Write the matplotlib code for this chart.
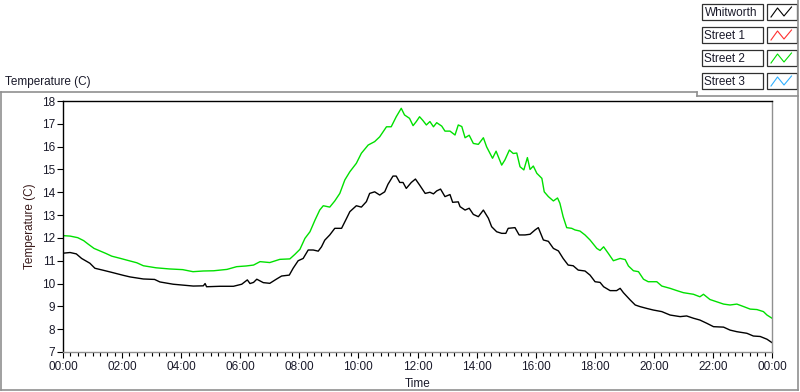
import matplotlib
matplotlib.use("Agg")
import matplotlib.pyplot as plt
from matplotlib.patches import Rectangle

# ---------------- data ----------------
whit_hours = [0.0, 0.24, 0.45, 0.63, 0.91, 1.08, 1.37, 1.65, 2.04, 2.27, 2.72, 3.10, 3.28,
              3.73, 4.41, 4.75, 4.81, 4.86, 5.31, 5.77, 6.05, 6.24, 6.33, 6.45, 6.56, 6.78,
              7.0, 7.22, 7.4, 7.66, 7.79, 7.96, 8.13, 8.3, 8.47, 8.64, 8.75, 8.86, 9.03,
              9.2, 9.43, 9.6, 9.71, 9.93, 10.1, 10.27, 10.38, 10.55, 10.72, 10.89, 11.0,
              11.17, 11.28, 11.4, 11.51, 11.62, 11.79, 11.93, 12.07, 12.26, 12.42, 12.54,
              12.65, 12.78, 12.93, 13.1, 13.19, 13.38, 13.44, 13.61, 13.75, 13.89, 14.06,
              14.23, 14.4, 14.51, 14.68, 14.85, 14.99, 15.07, 15.3, 15.44, 15.64, 15.81,
              15.98, 16.09, 16.26, 16.43, 16.6, 16.77, 16.93, 17.1, 17.27, 17.44, 17.67,
              17.84, 18.01, 18.18, 18.3, 18.52, 18.74, 18.86, 18.97, 19.2, 19.37, 19.53,
              19.76, 19.98, 20.27, 20.55, 20.89, 21.11, 21.34, 21.56, 21.79, 22.02, 22.36,
              22.58, 22.81, 23.15, 23.37, 23.6, 23.83, 24.0]
whit_temp = [11.33, 11.36, 11.30, 11.10, 10.89, 10.67, 10.58, 10.49, 10.36, 10.29, 10.20, 10.18,
             10.07, 9.97, 9.89, 9.90, 10.0, 9.86, 9.88, 9.88, 9.97, 10.16, 10.00, 10.05, 10.19,
             10.04, 10.01, 10.19, 10.33, 10.37, 10.67, 11.0, 11.1, 11.47, 11.47, 11.42, 11.61,
             11.9, 12.13, 12.42, 12.42, 12.86, 13.15, 13.41, 13.35, 13.59, 13.95, 14.02, 13.88,
             14.02, 14.35, 14.71, 14.71, 14.43, 14.43, 14.17, 14.43, 14.58, 14.32, 13.95, 14.0,
             13.93, 14.06, 14.14, 13.81, 13.9, 13.56, 13.58, 13.37, 13.22, 13.3, 13.03, 12.93,
             13.22, 12.86, 12.49, 12.27, 12.2, 12.2, 12.42, 12.45, 12.13, 12.13, 12.16, 12.35,
             12.45, 11.91, 11.85, 11.54, 11.43, 11.1, 10.81, 10.78, 10.59, 10.55, 10.37, 10.08,
             10.05, 9.86, 9.69, 9.69, 9.79, 9.6, 9.28, 9.06, 8.99, 8.91, 8.84, 8.77, 8.62, 8.55,
             8.58, 8.48, 8.4, 8.26, 8.11, 8.09, 7.96, 7.89, 7.82, 7.7, 7.68, 7.56, 7.41]

st2_hours = [0.0, 0.24, 0.5, 0.7, 0.85, 1.05, 1.25, 1.45, 1.65, 1.95, 2.15, 2.5, 2.72, 3.15,
             3.6, 4.05, 4.4, 4.75, 5.1, 5.55, 5.88, 6.2, 6.45, 6.67, 7.0, 7.34, 7.68, 7.85,
             8.02, 8.19, 8.36, 8.53, 8.69, 8.81, 9.03, 9.2, 9.37, 9.54, 9.71, 9.93, 10.1,
             10.33, 10.55, 10.72, 10.95, 11.11, 11.28, 11.45, 11.56, 11.73, 11.85, 11.96,
             12.07, 12.18, 12.3, 12.42, 12.54, 12.65, 12.82, 12.93, 13.1, 13.27, 13.38, 13.5,
             13.61, 13.75, 13.89, 14.06, 14.23, 14.34, 14.54, 14.66, 14.85, 14.96, 15.11,
             15.24, 15.36, 15.47, 15.6, 15.72, 15.81, 15.92, 16.04, 16.21, 16.29, 16.43, 16.6,
             16.74, 16.82, 16.93, 17.05, 17.22, 17.33, 17.5, 17.67, 17.84, 18.07, 18.18, 18.3,
             18.46, 18.63, 18.86, 19.03, 19.14, 19.31, 19.48, 19.65, 19.81, 20.1, 20.27, 20.55,
             20.78, 21.0, 21.34, 21.56, 21.68, 21.9, 22.13, 22.36, 22.58, 22.81, 23.04, 23.26,
             23.49, 23.71, 23.83, 24.0]
st2_temp = [12.10, 12.08, 12.01, 11.88, 11.73, 11.54, 11.43, 11.32, 11.2, 11.1, 11.03, 10.91,
            10.78, 10.69, 10.64, 10.61, 10.52, 10.55, 10.56, 10.62, 10.74, 10.77, 10.81, 10.96,
            10.92, 11.06, 11.08, 11.28, 11.5, 11.98, 12.27, 12.78, 13.22, 13.41, 13.35, 13.62,
            13.95, 14.54, 14.9, 15.27, 15.71, 16.07, 16.22, 16.43, 16.87, 16.87, 17.31, 17.68,
            17.39, 17.24, 16.92, 17.1, 17.31, 17.15, 16.95, 17.1, 16.87, 17.05, 16.9, 16.68,
            16.68, 16.51, 16.95, 16.88, 16.39, 16.5, 16.14, 16.1, 16.39, 15.99, 15.49, 15.8,
            15.19, 15.42, 15.85, 15.7, 15.72, 15.12, 14.98, 15.52, 15.0, 15.15, 14.83, 14.61,
            14.02, 13.81, 13.62, 13.75, 13.52, 12.93, 12.45, 12.42, 12.35, 12.3, 12.13, 11.91,
            11.54, 11.45, 11.61, 11.32, 11.0, 11.1, 11.05, 10.77, 10.56, 10.52, 10.19, 10.08,
            10.08, 9.89, 9.79, 9.69, 9.6, 9.53, 9.42, 9.53, 9.3, 9.2, 9.1, 9.06, 9.1, 8.99,
            8.88, 8.86, 8.77, 8.62, 8.48]

series_names = ["Whitworth", "Street 1", "Street 2", "Street 3"]
series_colors = ["#000000", "#ff3030", "#00e000", "#30b0ff"]

x_ticks = [0, 2, 4, 6, 8, 10, 12, 14, 16, 18, 20, 22, 24]
x_tick_labels = ["00:00", "02:00", "04:00", "06:00", "08:00", "10:00", "12:00",
                 "14:00", "16:00", "18:00", "20:00", "22:00", "00:00"]
y_ticks = [7, 8, 9, 10, 11, 12, 13, 14, 15, 16, 17, 18]

# ---------------- figure ----------------
W, H = 800, 392
plt.rcParams['font.family'] = ['Liberation Sans', 'DejaVu Sans']
fig = plt.figure(figsize=(W / 100, H / 100), dpi=100)
fig.patch.set_facecolor("white")

ov = fig.add_axes([0, 0, 1, 1], zorder=0)
ov.set_xlim(0, W)
ov.set_ylim(H, 0)
ov.axis("off")

frame_c = "#909090"
ov.plot([1, 697], [92, 92], color=frame_c, lw=1.2)
ov.plot([697, 697], [92, 96], color=frame_c, lw=1.2)
ov.plot([697, 798], [96, 96], color=frame_c, lw=1.2)
ov.plot([1, 1], [92, 390], color=frame_c, lw=1.2)
ov.plot([1, 798], [390, 390], color=frame_c, lw=1.2)
ov.plot([798, 798], [0, 390], color=frame_c, lw=1.2)

text_c = "#1a1a2a"
FS = 8.5
fig.text(5 / W, 1 - 82 / H, "Temperature (C)", fontsize=FS, color=text_c,
         ha="left", va="center")

row_tops = [4, 27, 50, 73]
for name, col, top in zip(series_names, series_colors, row_tops):
    ov.add_patch(Rectangle((702, top), 61, 16, facecolor="white",
                           edgecolor="#303030", lw=0.9))
    ov.text(704.5, top + 8.5, name, fontsize=FS, color=text_c, ha="left", va="center")
    ov.add_patch(Rectangle((767, top), 30, 16, facecolor="white",
                           edgecolor="#303030", lw=0.9))
    ov.plot([771, 777.5, 784, 791.5], [top + 13, top + 4, top + 12, top + 3],
            color=col, lw=0.8)

left, right = 63 / W, 772 / W
bottom, top = (H - 352) / H, (H - 101) / H
ax = fig.add_axes([left, bottom, right - left, top - bottom], zorder=2)
ax.set_facecolor("white")

ax.plot(whit_hours, whit_temp, color=series_colors[0], lw=1.0)
ax.plot(st2_hours, st2_temp, color=series_colors[2], lw=1.0)

ax.set_xlim(0, 24)
ax.set_ylim(7, 18)
ax.set_xticks(x_ticks)
ax.set_xticklabels(x_tick_labels)
ax.set_xticks([h / 4 for h in range(0, 97)], minor=True)
ax.set_yticks(y_ticks)
ax.set_yticklabels([str(v) for v in y_ticks])

ax.tick_params(axis="x", which="major", direction="out", length=4.5, width=0.8,
               labelsize=FS, colors="black", labelcolor=text_c, pad=2)
ax.tick_params(axis="x", which="minor", direction="out", length=3, width=0.8,
               colors="black")
ax.tick_params(axis="y", which="major", direction="out", length=4, width=0.8,
               labelsize=FS, colors="black", labelcolor=text_c, pad=1.5)

for side in ["left", "top"]:
    ax.spines[side].set_color("black")
    ax.spines[side].set_linewidth(1.0)
for side in ["bottom", "right"]:
    ax.spines[side].set_color("#909090")
    ax.spines[side].set_linewidth(1.0)

fig.text(418 / W, 1 - 384 / H, "Time", fontsize=FS, color=text_c, ha="center", va="center")
fig.text(30 / W, 1 - 226 / H, "Temperature (C)", fontsize=FS, color="#3a1a1a",
         ha="center", va="center", rotation=90)

fig.savefig("out.png", dpi=100, facecolor="white")
